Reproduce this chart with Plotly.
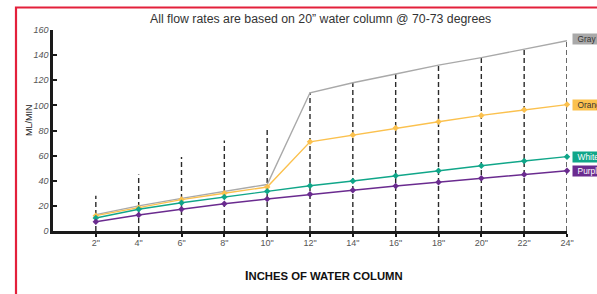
import plotly.graph_objects as go

inches = [2, 4, 6, 8, 10, 12, 14, 16, 18, 20, 22, 24]
tick_labels = ['2"', '4"', '6"', '8"', '10"', '12"', '14"', '16"', '18"', '20"', '22"', '24"']
gray = [13, 20, 26, 31.5, 37, 110, 118, 125, 132, 138, 145, 151.5]
orange = [12.2, 18.5, 25, 30, 35, 71, 76.5, 82, 87, 92, 96.5, 100.6]
white = [10.4, 17.3, 22.5, 27, 31.6, 36, 39.8, 44, 48, 52, 55.7, 59.2]
purple = [7.4, 12.7, 17.3, 21.7, 25.5, 29.2, 32.4, 35.8, 38.8, 42, 45, 48]
drop_heights = [28, 45, 59, 72, 82, 110, 118, 125, 132, 138, 145, 151.5]
series_names = ["Gray", "Orange", "White", "Purple"]

W, H = 597, 294
L, R, T, B = 53, 30, 30, 63
pw, ph = W - L - R, H - T - B

def px(x):
    return (x - L) / pw

def py(y):
    return (H - B - y) / ph

fig = go.Figure()

# dashed drop lines
for x, h in zip(inches, drop_heights):
    fig.add_trace(go.Scatter(x=[x, x], y=[0, h], mode="lines",
                             line=dict(color="#2a2a2a", width=1.4, dash="5px,3px"),
                             hoverinfo="skip", showlegend=False, cliponaxis=False))

colors = {"Gray": "#a9a9a9", "Orange": "#fbc14e", "White": "#10a689", "Purple": "#6a2b8f"}
data = {"Gray": gray, "Orange": orange, "White": white, "Purple": purple}
for name in series_names:
    fig.add_trace(go.Scatter(
        x=inches, y=data[name], mode="lines" if name == "Gray" else "lines+markers",
        line=dict(color=colors[name], width=1.4),
        marker=dict(symbol="diamond", size=5, color=colors[name]),
        showlegend=False, cliponaxis=False, name=name))

# end labels
txtcol = {"Gray": "#333333", "Orange": "#333333", "White": "#ffffff", "Purple": "#ffffff"}
for name in series_names:
    fig.add_annotation(x=inches[-1], y=data[name][-1] + (1 if name == "Gray" else 0),
                       xref="x", yref="y", xanchor="left", yanchor="middle",
                       xshift=5, text="&nbsp;&nbsp;" + name + "&nbsp;&nbsp;&nbsp;&nbsp;&nbsp;&nbsp;",
                       showarrow=False, bgcolor=colors[name], borderpad=0,
                       font=dict(family="Liberation Sans Narrow, Liberation Sans, Arial", size=8.3,
                                 color=txtcol[name]))

# title
fig.add_annotation(x=px(320), y=py(19), xref="paper", yref="paper",
                   text="All flow rates are based on 20\u201d water column @ 70-73 degrees",
                   showarrow=False, xanchor="center", yanchor="middle",
                   font=dict(family="Liberation Sans, Arial", size=12.3, color="#333333"))
# y title
fig.add_annotation(x=px(29), y=py(120), xref="paper", yref="paper", text="ML/MIN",
                   textangle=-90, showarrow=False, xanchor="center", yanchor="middle",
                   font=dict(family="Liberation Sans, Arial", size=9, color="#222222"))
# x title
fig.add_annotation(x=px(324), y=py(276), xref="paper", yref="paper",
                   text="<b><span style='font-size:12.5px'>I</span>NCHES OF WATER COLUMN</b>",
                   showarrow=False, xanchor="center", yanchor="middle",
                   font=dict(family="Liberation Sans Narrow, Liberation Sans, Arial", size=11.3, color="#111111"))

# red frame
red = "#e3203b"
fig.add_shape(type="rect", xref="paper", yref="paper", x0=px(16), x1=px(640), y0=py(330), y1=py(7.5),
              line=dict(color=red, width=2.2), fillcolor="rgba(0,0,0,0)", layer="above")

fig.update_xaxes(range=[0, 24], tickvals=inches, ticktext=tick_labels,
                 showline=True, linecolor="#1a1a1a", linewidth=2.5,
                 ticks="outside", ticklen=3, tickwidth=2, tickcolor="#1a1a1a",
                 showgrid=False, zeroline=False, ticklabelstandoff=-2,
                 tickfont=dict(family="Liberation Sans, Arial", size=9, color="#555555"))
fig.update_yaxes(range=[0, 160], tickvals=[0, 20, 40, 60, 80, 100, 120, 140, 160],
                 showline=True, linecolor="#1a1a1a", linewidth=2.5,
                 ticks="inside", ticklen=4, tickwidth=2, tickcolor="#1a1a1a",
                 showgrid=False, zeroline=False,
                 tickfont=dict(family="Liberation Sans, Arial", size=9, color="#555555", style="italic"))

fig.update_layout(width=W, height=H, margin=dict(l=L, r=R, t=T, b=B),
                  plot_bgcolor="white", paper_bgcolor="white", showlegend=False)

fig.write_html("out.html", config={"displayModeBar": False},
               post_script="document.body.style.margin='0px';document.body.style.overflow='hidden';")
